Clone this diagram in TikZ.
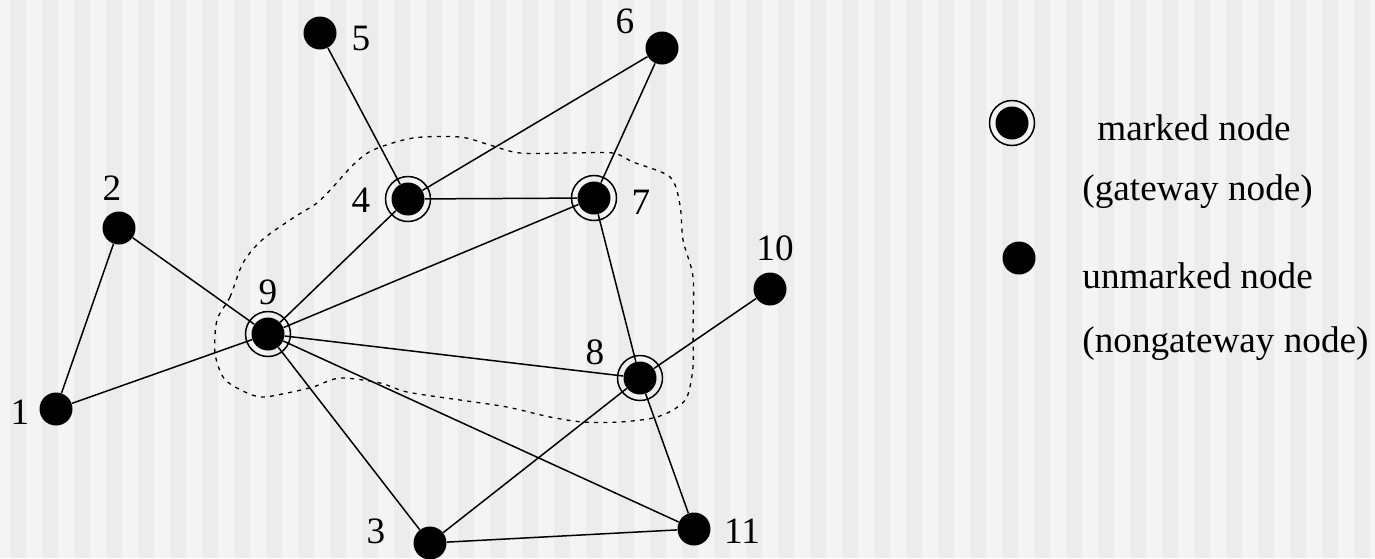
\documentclass[tikz,border=0pt]{standalone}
\usepackage{fontspec}
\setmainfont{Liberation Serif}
\definecolor{stripelight}{HTML}{F4F4F4}
\definecolor{stripedark}{HTML}{ECECEC}
\begin{document}
\begin{tikzpicture}[x=0.5pt,y=-0.5pt,
  dot/.style={circle,fill=black,inner sep=0pt,minimum size=16.5pt},
  ringline/.style={line width=0.75pt,draw=black},
  edgeline/.style={line width=0.75pt,draw=black},
  num/.style={inner sep=0pt,font=\fontsize{18.6}{22}\selectfont},
  legtext/.style={inner sep=0pt,anchor=base west,font=\fontsize{18.6}{22}\selectfont},
  blob/.style={line width=0.65pt,dash pattern=on 2pt off 2.6pt}]
% background
\fill[stripelight] (0,0) rectangle (1375,558);
\foreach \k in {0,...,42} \fill[stripedark] ({10+32*\k},0) rectangle ({26+32*\k},558);
\useasboundingbox (0,0) rectangle (1375,558);
% dotted region
\draw[blob] plot[smooth cycle,tension=0.5] coordinates {
 (217,320) (230,297) (243,263) (262,240) (293,218) (317,203) (333,187) (353,165)
 (373,150) (413,138) (460,137) (490,145) (520,153) (573,153) (613,153) (633,162)
 (670,177) (680,205) (683,240) (693,277) (693,330) (693,367) (687,397) (673,410)
 (653,418) (620,422) (583,422) (550,417) (507,407) (460,400) (407,392) (380,383)
 (340,378) (313,387) (287,393) (260,397) (237,388) (223,377) (215,353)};
% nodes
\node[dot] (n1) at (56,409) {};
\node[dot] (n2) at (119,228) {};
\node[dot] (n3) at (430,543) {};
\node[dot] (n4) at (408,199) {};
\node[dot] (n5) at (320,33) {};
\node[dot] (n6) at (662,48) {};
\node[dot] (n7) at (594,198) {};
\node[dot] (n8) at (640,378) {};
\node[dot] (n9) at (268,334) {};
\node[dot] (n10) at (770,289) {};
\node[dot] (n11) at (694,529) {};
\foreach \n in {4,7,8,9} \draw[ringline] (n\n.center) circle[radius=11.25pt];
% edges
\foreach \a/\b in {1/2,1/9,2/9,5/4,4/6,4/7,6/7,4/9,7/9,7/8,9/8,8/10,9/3,9/11,8/3,8/11,3/11}
  \draw[edgeline] (n\a) -- (n\b);
% labels
\node[num] (l1) at (20,412) {1};
\node[num] (l2) at (112,188) {2};
\node[num] (l3) at (376,531) {3};
\node[num] (l4) at (361,200) {4};
\node[num] (l5) at (361,38) {5};
\node[num] (l6) at (625,21) {6};
\node[num] (l7) at (641,202) {7};
\node[num] (l8) at (595,352) {8};
\node[num] (l9) at (268,292) {9};
\node[num] (l10) at (775,248) {10};
\node[num] (l11) at (742,531) {11};
% legend
\node[dot] (lgm) at (1012,123) {};
\draw[ringline] (lgm.center) circle[radius=11.25pt];
\node[dot] (lgu) at (1019,258) {};
\node[legtext] (t1) at (1097,140) {marked node};
\node[legtext] (t2) at (1082,200) {(gateway node)};
\node[legtext] (t3) at (1082,288) {unmarked node};
\node[legtext] (t4) at (1082,352) {(nongateway node)};
\end{tikzpicture}
\end{document}
